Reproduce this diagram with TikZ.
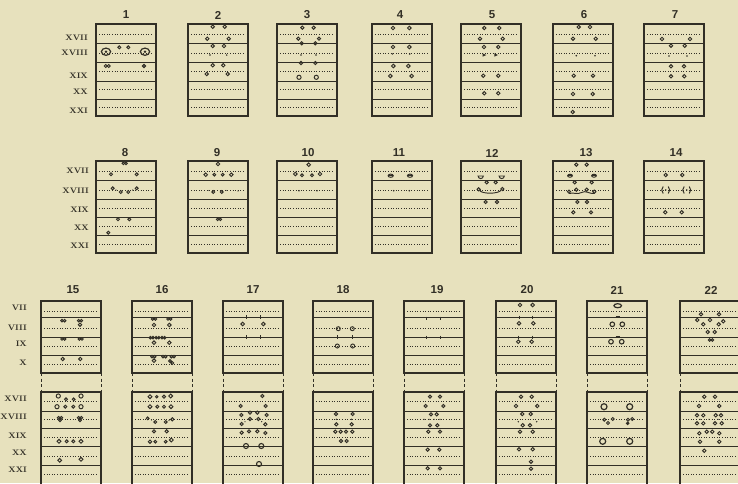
\documentclass[tikz,border=0pt]{standalone}
\usepackage{fontspec}
\setsansfont{Liberation Sans}
\definecolor{paper}{RGB}{231,225,189}
\definecolor{ink}{RGB}{50,47,38}
\begin{document}
\begin{tikzpicture}[x=1pt,y=-1pt,
    boxframe/.style={draw=ink,line width=1.3pt},
    band/.style={draw=ink,line width=0.7pt},
    midline/.style={draw=ink,line width=0.6pt,dash pattern=on 1pt off 1.6pt},
    link/.style={draw=ink,line width=1pt,dash pattern=on 3pt off 2.5pt},
    seta/.style={draw=ink,line width=0.95pt},
    speck/.style={fill=ink},
    num/.style={font=\sffamily\bfseries\fontsize{11.5}{12}\selectfont,text=ink},
    seg/.style={font=\bfseries\fontsize{8}{8}\selectfont,text=ink,anchor=east,inner sep=0pt}
]
\fill[paper] (0,0) rectangle (738,483);
\useasboundingbox (0,0) rectangle (738,483);

% frames
\foreach \bx in {96,188,277,372,461,553,644}{
  \draw[boxframe] (\bx,24) rectangle ++(60,92);
  \foreach \ly in {43,62,81,99} \draw[band] (\bx,\ly) -- ++(60,0);
  \foreach \ly in {34,53,71,89,107} \draw[midline] (\bx+3,\ly) -- ++(54,0);
  \draw[boxframe] (\bx,161) rectangle ++(60,92);
  \foreach \ly in {180.5,199,217.5,235} \draw[band] (\bx,\ly) -- ++(60,0);
  \foreach \ly in {171,190,208,226,244} \draw[midline] (\bx+3,\ly) -- ++(54,0);
}
\foreach \bx in {41,132,223,313,404,496,587,680}{
  \draw[boxframe] (\bx,301) rectangle ++(60,72);
  \foreach \ly in {317,337,355} \draw[band] (\bx,\ly) -- ++(60,0);
  \foreach \ly in {311,328,346,364} \draw[midline] (\bx+3,\ly) -- ++(54,0);
  \draw[link] (\bx,373) -- (\bx,392);
  \draw[link] (\bx+60,373) -- (\bx+60,392);
  \draw[boxframe] (\bx,392) rectangle ++(60,93);
  \foreach \ly in {411,428,446,465} \draw[band] (\bx,\ly) -- ++(60,0);
  \foreach \ly in {401,419,437,456,474} \draw[midline] (\bx+3,\ly) -- ++(54,0);
}

% numbers
\foreach \n/\x in {1/126,2/218,3/307,4/400,5/492,6/584,7/675}
  \node[num] (n\n) at (\x,15) {\n};
\foreach \n/\x in {8/125,9/217,10/308,11/399,12/492,13/586,14/676}
  \node[num] (n\n) at (\x,153) {\n};
\foreach \n/\x in {15/73,16/162,17/253,18/343,19/437,20/527,21/617,22/711}
  \node[num] (n\n) at (\x,290) {\n};

% segments
\foreach \s/\y in {XVII/38,XVIII/53,XIX/76,XX/92,XXI/111}
  \node[seg] (a\s) at (88,\y) {\s};
\foreach \s/\y in {XVII/171,XVIII/191,XIX/210,XX/228,XXI/246}
  \node[seg] (b\s) at (89,\y) {\s};
\foreach \s/\y in {VII/308,VIII/328,IX/344,X/363,XVII/399,XVIII/417,XIX/436,XX/453,XXI/470}
  \node[seg] (c\s) at (27,\y) {\s};

% row 1
\begin{scope}[shift={(96,24)}]
  \foreach \x in {10,49}{
    \draw[seta,line width=1.2pt] (\x,27.7) ellipse[x radius=4.6,y radius=3.6];
    \fill[ink] (\x,27.7) circle[radius=1.3];}
  \foreach \x in {23.3,32.3} \draw[seta] (\x,23.3) circle[radius=1.5];
  \draw[seta] (9.8,42) circle[radius=1.5] (12.8,42) circle[radius=1.5];
  \draw[seta,fill=ink!60] (48,42) circle[radius=1.6];
\end{scope}
\begin{scope}[shift={(188,24)}]
  \foreach \x/\y in {24.7/2.7,36.7/2.7,19.3/14.7,40.7/14.7,24.7/22,36/22,24.7/41.3,35.3/41.3,18.7/50,39.7/50}
    \draw[seta] (\x,\y) circle[radius=1.7];
  \foreach \x/\y in {22/31,38.7/31} \fill[speck] (\x,\y) circle[radius=0.8];
\end{scope}
\begin{scope}[shift={(277,24)}]
  \foreach \x/\y in {25.3/3.7,36.7/3.7,21.3/14.7,42/14.7,24.7/19.3,38.3/19.3,24/39,38.3/39}
    \draw[seta] (\x,\y) circle[radius=1.6];
  \foreach \x/\y in {22/53.3,39.3/53.3} \draw[seta] (\x,\y) circle[radius=2.1];
  \foreach \x/\y in {24/31,39/31} \fill[speck] (\x,\y) circle[radius=0.8];
\end{scope}
\begin{scope}[shift={(372,24)}]
  \foreach \x/\y in {21/4,37.3/4,21/23,37.3/23,21.3/42,36.3/42,18.3/52,39.7/52}
    \draw[seta] (\x,\y) circle[radius=1.8];
  \foreach \x/\y in {20.3/30,37.7/30} \fill[speck] (\x,\y) circle[radius=0.8];
\end{scope}
\begin{scope}[shift={(461,24)}]
  \foreach \x/\y in {23.3/4,38.3/4,19/14.7,41.7/14.7,23/23,37.3/23,22.3/51.7,37.3/51.7,23.3/69.3,37.3/69.3}
    \draw[seta] (\x,\y) circle[radius=1.7];
  \foreach \x/\y in {23.3/31,35/31} \fill[ink] (\x-1.6,\y-1.6) -- (\x+2,\y) -- (\x-1.6,\y+1.6) -- cycle;
\end{scope}
\begin{scope}[shift={(553,24)}]
  \foreach \x/\y in {25.7/3,37/3,20/14.7,42.7/14.7,20.7/51.7,40/51.7,20/70,39.7/70,19.7/88}
    \draw[seta] (\x,\y) circle[radius=1.7];
  \foreach \x/\y in {23.3/31.7,42/31.7} \fill[speck] (\x,\y) circle[radius=0.9];
\end{scope}
\begin{scope}[shift={(644,24)}]
  \foreach \x/\y in {18/15,46/15,27/21.7,40.7/21.7,27/42.3,40/42.3,27/52.3,40.3/52.3}
    \draw[seta] (\x,\y) circle[radius=1.7];
  \foreach \x/\y in {25/32,43/32} \fill[speck] (\x,\y) circle[radius=0.9];
\end{scope}

% row 2
\begin{scope}[shift={(96,161)}]
  \draw[seta] (27.4,2.3) circle[radius=1.3] (30,2.3) circle[radius=1.3];
  \foreach \x/\y in {15/13.3,40.7/13.3,16.7/27.3,24.7/31,32.3/31,40.7/27.3,22/58.3,33.3/58.3,12.3/71.7}
    \draw[seta] (\x,\y) circle[radius=1.5];
  \foreach \x/\y in {20/29,36.7/29} \fill[speck] (\x,\y) circle[radius=0.7];
\end{scope}
\begin{scope}[shift={(188,161)}]
  \foreach \x/\y/\r in {30/3/1.8,17.7/13.7/1.8,26.3/13.7/1.4,34.7/13.7/1.4,43.3/13.7/1.8,25.3/31/1.4,33.7/31/1.4}
    \draw[seta] (\x,\y) circle[radius=\r];
  \draw[seta] (29.7,58.3) circle[radius=1.3] (32.3,58.3) circle[radius=1.3];
  \foreach \x/\y in {21/29.5,38/29.5,50/30} \fill[speck] (\x,\y) circle[radius=0.6];
\end{scope}
\begin{scope}[shift={(277,161)}]
  \foreach \x/\y/\r in {31.7/3.7/1.8,18.3/13/1.8,25/14.3/1.4,35/14.3/1.4,43/13/1.8}
    \draw[seta] (\x,\y) circle[radius=\r];
  \foreach \x/\y in {22/29.7,40/29.7} \fill[speck] (\x,\y) circle[radius=0.8];
\end{scope}
\begin{scope}[shift={(371,161)}]
  \foreach \x/\y in {19.7/14.7,39/14.7}{
    \draw[seta] (\x,\y) ellipse[x radius=2.6,y radius=1.6];
    \draw[seta,line width=0.5pt] (\x-2.6,\y) -- (\x+2.6,\y);}
  \foreach \x/\y in {22.7/29.7,38.3/29.7} \fill[speck] (\x,\y) circle[radius=0.9];
\end{scope}
\begin{scope}[shift={(460,161)}]
  \foreach \x/\y in {20.7/14,41.7/14}
    \draw[seta] (\x-2.6,\y+1) arc[start angle=180,end angle=0,radius=2.6] -- cycle;
  \foreach \x/\y in {26.7/21.3,35.7/21.3,18.7/28.3,42.3/28,25.7/41,37/41}
    \draw[seta] (\x,\y) circle[radius=1.6];
  \draw[seta] (20,30) .. controls (24,33) and (37,33) .. (41,29.5);
  \fill[speck] (30.5,29.5) circle[radius=0.7];
\end{scope}
\begin{scope}[shift={(552,161)}]
  \foreach \x/\y in {24.3/3.7,34.7/3.7,22.7/21.3,39.7/21.3,17/30.7,24.3/28.7,34.7/28.7,42.3/30.7,25.3/41,35/41,21.3/51.3,39/51.3}
    \draw[seta] (\x,\y) circle[radius=1.6];
  \foreach \x/\y in {18/14.7,42/14.7}{
    \draw[seta] (\x,\y) ellipse[x radius=2.4,y radius=1.5];
    \draw[seta,line width=0.5pt] (\x-2.4,\y) -- (\x+2.4,\y);}
  \draw[seta] (17,32.5) .. controls (22,31) and (25,34) .. (29.5,31.5) .. controls (34,29) and (37,33) .. (42.3,32.5);
\end{scope}
\begin{scope}[shift={(644,161)}]
  \foreach \x/\y in {21.7/14,38.3/14,21.3/51.3,37.7/51.3}
    \draw[seta] (\x,\y) circle[radius=1.7];
  \foreach \x/\y in {21.7/29,42.7/29}{
    \fill[speck] (\x,\y) circle[radius=0.9];
    \draw[seta] (\x-2.5,\y-3.5) .. controls (\x-4.5,\y-1) and (\x-4.5,\y+1) .. (\x-2.5,\y+3.5);
    \draw[seta] (\x+2.5,\y-3.5) .. controls (\x+4.5,\y-1) and (\x+4.5,\y+1) .. (\x+2.5,\y+3.5);}
\end{scope}

% row 3, upper boxes
\begin{scope}[shift={(41,301)}]
  \foreach \x/\y in {22.3/19.7,39/19.7,22.3/38,39.7/38}
    \draw[seta] (\x-1.3,\y) circle[radius=1.3] (\x+1.3,\y) circle[radius=1.3];
  \foreach \x/\y in {39/23.7,21.7/58,39.3/58} \draw[seta] (\x,\y) circle[radius=1.7];
\end{scope}
\begin{scope}[shift={(132,301)}]
  \foreach \x/\y in {22/18,37.3/18,19.7/36.7,25.5/36.7,31.3/36.7,21.3/55.7,32.3/55.7,40.7/55.7}
    \draw[seta] (\x-1.3,\y) circle[radius=1.3] (\x+1.3,\y) circle[radius=1.3];
  \foreach \x/\y in {22/24,37.3/24,22/41.7,37.3/41.7,22/59.7} \draw[seta] (\x,\y) circle[radius=1.8];
  \draw[seta] (38,60) circle[radius=1.4] (40.3,62) circle[radius=1.4];
\end{scope}
\begin{scope}[shift={(223,301)}]
  \foreach \x/\y in {23/16,37/16,23/36,37.7/36} \draw[seta] (\x,\y-2) -- (\x,\y+2);
  \foreach \x/\y in {19.7/23,40.3/23} \draw[seta] (\x,\y) circle[radius=1.8];
\end{scope}
\begin{scope}[shift={(313,301)}]
  \foreach \x/\y in {25.3/27.7,39.3/27.7,24.3/45,39.7/45} \draw[seta] (\x,\y) circle[radius=2];
  \foreach \x/\y in {24.3/36,39.7/36} \draw[seta] (\x,\y-2) -- (\x,\y+2);
\end{scope}
\begin{scope}[shift={(404,301)}]
  \foreach \x/\y in {22.7/17,36/17,22.7/36,36/36} \draw[seta] (\x,\y-1.5) -- (\x,\y+1.5);
\end{scope}
\begin{scope}[shift={(496,301)}]
  \foreach \x/\y in {24/4,36.7/4,23/22.3,37.3/22.3,22.3/40.7,35.7/40.7} \draw[seta] (\x,\y) circle[radius=1.8];
  \foreach \x/\y in {23/16,36.7/16,22.3/36,36.3/36} \draw[seta] (\x,\y-1.5) -- (\x,\y+1.5);
\end{scope}
\begin{scope}[shift={(587,301)}]
  \draw[seta,line width=1.2pt] (30.7,4.7) ellipse[x radius=3.8,y radius=2];
  \foreach \y in {16,36} \draw[ink,line width=1.6pt] (28.5,\y) -- (33,\y);
  \foreach \x/\y in {25.3/23.3,35.3/23.3,24/40.7,34.7/40.7} \draw[seta,line width=1.1pt] (\x,\y) circle[radius=2.3];
\end{scope}
\begin{scope}[shift={(680,301)}]
  \foreach \x/\y in {21/13.3,39/13.3,17.3/19,30/19,43.3/20.3,23.3/23.3,38.7/23.3,27.7/31,34.7/31}
    \draw[seta] (\x,\y) circle[radius=1.7];
  \draw[seta] (29.7,39) circle[radius=1.3] (32.3,39) circle[radius=1.3];
\end{scope}

% row 3, lower boxes
\begin{scope}[shift={(41,392)}]
  \foreach \x/\y/\r in {17.3/4/2.1,40/4/2.1,16/14.7/2.1,40/14.7/2.1,25/7.3/1.4,32.7/7.3/1.4,24.3/14.7/1.5,32.3/14.7/1.5,
      18/49.3/1.9,25.7/49.3/1.5,32.3/49.3/1.5,40/49.3/1.9,18.7/68.3/1.9,40/67.3/1.9}
    \draw[seta] (\x,\y) circle[radius=\r];
  \foreach \x/\y in {19/27,39/27}
    \draw[seta] (\x-1.4,\y-1.2) circle[radius=1.3] (\x+1.4,\y-1.2) circle[radius=1.3] (\x,\y+1.3) circle[radius=1.3];
\end{scope}
\begin{scope}[shift={(132,392)}]
  \foreach \x/\y/\r in {18/4.7/1.9,24.7/4.7/1.2,32/4.7/1.6,38.7/4/1.9,18/14.7/1.9,25.3/14.7/1.5,32/14.7/1.5,39/14.7/1.9,
      15.7/26.3/1.4,23.3/30/1.4,33.7/30/1.4,40.3/27.3/1.6,22/39.3/1.6,34.7/39.3/1.6,18/49.7/1.7,23.3/49.7/1.4,33.7/49.7/1.4,39.3/48/1.9}
    \draw[seta] (\x,\y) circle[radius=\r];
  \foreach \x/\y in {19.5/28,37/28.5} \fill[speck] (\x,\y) circle[radius=0.6];
\end{scope}
\begin{scope}[shift={(223,392)}]
  \foreach \x/\y in {39.3/4,17.7/14,42.7/14,18.3/23,27/20.7,34.3/20.7,43.7/23,27/27,35.3/27,18.7/32,42.3/32.3,
      18.7/40.7,26/39.3,34.3/39.3,42.3/41}
    \draw[seta] (\x,\y) circle[radius=1.6];
  \foreach \x/\y in {22/29.7,38.7/29.7} \fill[speck] (\x,\y) circle[radius=0.7];
  \foreach \x/\y in {23/54,38.3/54,36/72} \draw[seta,line width=1.1pt] (\x,\y) circle[radius=2.5];
\end{scope}
\begin{scope}[shift={(313,392)}]
  \foreach \x/\y in {23/22,39.7/22,23.3/32.3,38.7/32.3,22.3/39.7,27.7/39.7,33/39.7,39.3/39.7,28/49,33.7/49}
    \draw[seta] (\x,\y) circle[radius=1.6];
  \foreach \x/\y in {23.3/27.3,38.7/27.3} \fill[speck] (\x,\y) circle[radius=0.8];
\end{scope}
\begin{scope}[shift={(404,392)}]
  \foreach \x/\y in {26/4.7,36/4.7,21.7/14,39.3/14,27/22.3,32.7/22.3,26/33.3,33.3/33.3,24.3/39.7,36/39.7,
      23.7/57.7,35.3/57.7,23.7/76.3,36/76.3}
    \draw[seta] (\x,\y) circle[radius=1.6];
  \foreach \x/\y in {20/27.3,25/27.3,30/27.3,36/27.3} \fill[speck] (\x,\y) circle[radius=0.7];
\end{scope}
\begin{scope}[shift={(496,392)}]
  \foreach \x/\y in {25/4.7,35.7/4.7,20/14,41.3/14,26.3/22,34.7/22,26.7/33.3,34/33.3,24/39.7,36.7/39.7,
      23/57.3,36.7/57.3,35/69.7,35/76.7}
    \draw[seta] (\x,\y) circle[radius=1.7];
  \foreach \x/\y in {22.3/29.7,40.7/29.7} \fill[speck] (\x,\y) circle[radius=0.8];
\end{scope}
\begin{scope}[shift={(587,392)}]
  \foreach \x/\y in {17/14.7,42.7/14.7,15.7/49.3,42.7/49.3} \draw[seta,line width=1.2pt] (\x,\y) circle[radius=3];
  \foreach \x/\y in {17.3/27.7,21/31,25.7/27,41/27.7,45.3/27} \draw[seta] (\x,\y) circle[radius=1.5];
  \draw[seta,fill=ink] (40.7,31.3) circle[radius=1.3];
\end{scope}
\begin{scope}[shift={(680,392)}]
  \foreach \x/\y in {24.3/4.7,35/4.7,19/14,39.3/14,17/23.3,23.3/23.3,35.7/23.3,41/23.3,17/31.3,23.3/31.3,35/31.3,41.7/31.3,
      19.3/41.3,26.7/39.7,32.3/39.7,39.3/41.3,20/49.7,39.3/49.7,24.3/58.7}
    \draw[seta] (\x,\y) circle[radius=1.7];
  \foreach \x/\y in {20/27.3,29/27.3,38/27.3} \fill[speck] (\x,\y) circle[radius=0.7];
\end{scope}
\end{tikzpicture}
\end{document}
